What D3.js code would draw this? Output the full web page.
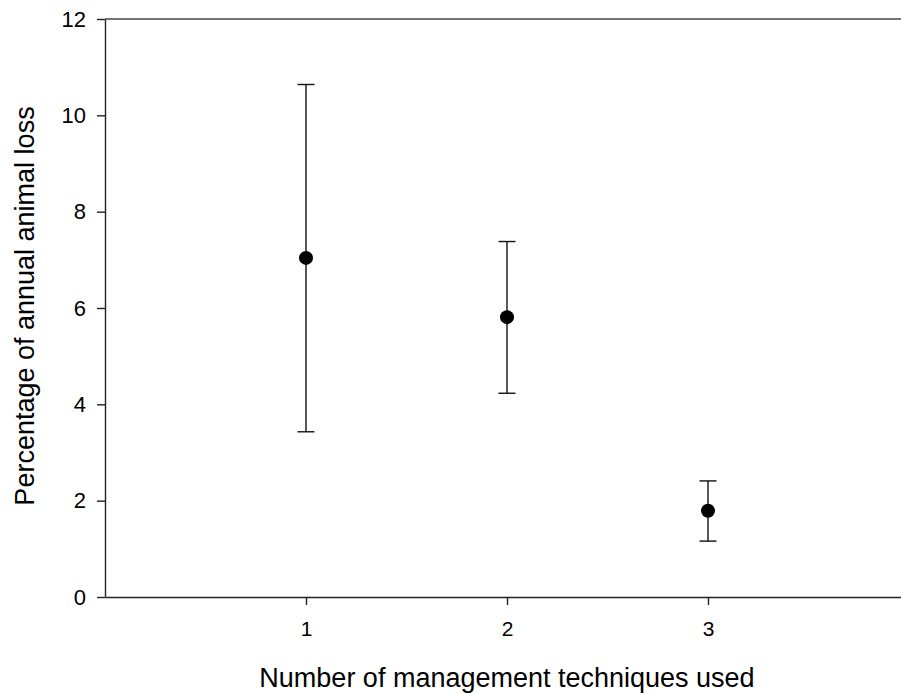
<!DOCTYPE html>
<html>
<head>
<meta charset="utf-8">
<script src="https://cdn.jsdelivr.net/npm/d3@7"></script>
<style>
  html, body { margin: 0; padding: 0; background: #fff; }
  svg { display: block; }
  text { font-family: "Liberation Sans", Arial, sans-serif; fill: #000; }
</style>
</head>
<body>
<svg id="chart" width="901" height="694"></svg>
<script>
// Number of management techniques used, with mean loss and error bounds (%)
const techniques = [1, 2, 3];
const meanLoss  = [7.04, 5.81, 1.79];
const upperLoss = [10.64, 7.38, 2.41];
const lowerLoss = [3.43, 4.23, 1.16];
const yTicks = [0, 2, 4, 6, 8, 10, 12];
const xTicks = [1, 2, 3];

const svg = d3.select("#chart");
const plotLeft = 105, plotRight = 909, plotTop = 19, plotBottom = 597;

const x = d3.scaleLinear().domain([0, 4]).range([plotLeft, plotRight]);
const y = d3.scaleLinear().domain([0, 12]).range([plotBottom, plotTop]);

const axisColor = "#222";

// y axis
const gy = svg.append("g")
  .attr("transform", `translate(${plotLeft},0)`)
  .call(d3.axisLeft(y).tickValues(yTicks).tickSize(8).tickSizeOuter(0).tickPadding(11).tickFormat(d3.format("d")));
gy.attr("font-size", 22);
gy.select(".domain").attr("stroke", axisColor).attr("stroke-width", 1.4);
gy.selectAll(".tick line").attr("stroke", axisColor).attr("stroke-width", 1.4);
gy.selectAll(".tick text").attr("fill", "#000");

// x axis
const gx = svg.append("g")
  .attr("transform", `translate(0,${plotBottom})`)
  .call(d3.axisBottom(x).tickValues(xTicks).tickSize(8).tickSizeOuter(0).tickPadding(16).tickFormat(d3.format("d")));
gx.attr("font-size", 21);
gx.select(".domain").attr("stroke", axisColor).attr("stroke-width", 1.4);
gx.selectAll(".tick line").attr("stroke", axisColor).attr("stroke-width", 1.4);
gx.selectAll(".tick text").attr("fill", "#000");

// top frame line
svg.append("line")
  .attr("x1", plotLeft).attr("x2", plotRight)
  .attr("y1", y(12)).attr("y2", y(12))
  .attr("stroke", "#444").attr("stroke-width", 1.6);

// error bars
const data = techniques.map((t, i) => ({ t, m: meanLoss[i], hi: upperLoss[i], lo: lowerLoss[i] }));
const capHalf = 8.5;
const bars = svg.append("g").attr("stroke", "#111").attr("stroke-width", 1.4);
bars.selectAll("line.stem").data(data).join("line").attr("class", "stem")
  .attr("x1", d => x(d.t)).attr("x2", d => x(d.t))
  .attr("y1", d => y(d.hi)).attr("y2", d => y(d.lo));
bars.selectAll("line.cap-hi").data(data).join("line").attr("class", "cap-hi")
  .attr("x1", d => x(d.t) - capHalf).attr("x2", d => x(d.t) + capHalf)
  .attr("y1", d => y(d.hi)).attr("y2", d => y(d.hi));
bars.selectAll("line.cap-lo").data(data).join("line").attr("class", "cap-lo")
  .attr("x1", d => x(d.t) - capHalf).attr("x2", d => x(d.t) + capHalf)
  .attr("y1", d => y(d.lo)).attr("y2", d => y(d.lo));

// mean markers
svg.append("g").selectAll("circle").data(data).join("circle")
  .attr("cx", d => x(d.t)).attr("cy", d => y(d.m))
  .attr("r", 7).attr("fill", "#000");

// axis titles
svg.append("text")
  .attr("x", (plotLeft + plotRight) / 2).attr("y", 687)
  .attr("text-anchor", "middle")
  .style("font-size", "27px")
  .text("Number of management techniques used");

svg.append("text")
  .attr("transform", `translate(34,306) rotate(-90)`)
  .attr("text-anchor", "middle")
  .style("font-size", "27px")
  .text("Percentage of annual animal loss");
</script>
</body>
</html>
